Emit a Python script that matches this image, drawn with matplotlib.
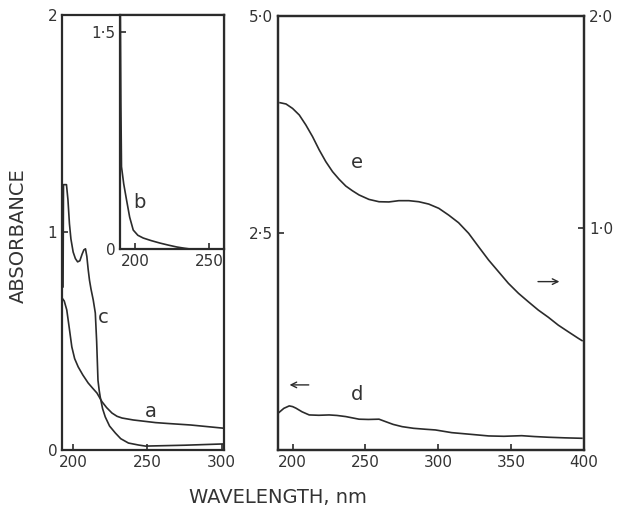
import matplotlib.pyplot as plt

# curve a, c (left panel, 0-2 absorbance)
wl_a = [192.4, 194.0, 195.7, 197.4, 199.1, 201.0, 203.4, 206.5, 210.1, 213.0, 216.0, 219.4,
        222.5, 226.1, 229.5, 232.9, 240.5, 255.4, 263.5, 279.0, 301.5]
abs_a = [0.70, 0.685, 0.644, 0.56, 0.474, 0.42, 0.382, 0.345, 0.308, 0.285, 0.262, 0.222,
         0.195, 0.170, 0.155, 0.147, 0.138, 0.126, 0.122, 0.115, 0.100]

wl_c = [193.2, 193.5, 195.5, 196.5, 197.5, 198.5, 200.0, 201.5, 203.0, 204.5, 206.0, 207.2,
        208.3, 209.2, 210.1, 211.0, 212.0, 213.5, 214.9, 215.8, 216.7, 217.5, 218.2, 219.8,
        221.6, 224.5, 228.4, 232.0, 237.2, 243.9, 248.6, 275.0, 301.5]
abs_c = [0.75, 1.22, 1.22, 1.15, 1.04, 0.97, 0.91, 0.88, 0.865, 0.87, 0.90, 0.92,
         0.925, 0.89, 0.83, 0.78, 0.74, 0.69, 0.63, 0.50, 0.32, 0.275, 0.244, 0.19,
         0.152, 0.11, 0.078, 0.052, 0.032, 0.023, 0.018, 0.022, 0.028]

# curve b (inset)
wl_b = [190.2, 190.6, 191.0, 192.5, 194.4, 196.5, 198.9, 202.0, 205.6, 211.0, 216.9, 222.5,
        228.2, 233.0, 237.2, 260.0]
abs_b = [1.70, 1.00, 0.569, 0.45, 0.339, 0.22, 0.131, 0.095, 0.076, 0.058, 0.041, 0.027,
         0.014, 0.006, 0.0, 0.0]

# curve d (right panel, left scale 0-5)
wl_d = [190.5, 194.0, 197.7, 200.0, 202.3, 206.5, 211.4, 218.0, 225.1, 230.5, 236.5, 245.6,
        252.0, 259.3, 263.8, 269.0, 275.2, 283.0, 291.2, 298.0, 309.2, 313.9, 324.0, 334.5,
        345.0, 357.2, 366.0, 375.5, 387.0, 398.5]
abs_d = [0.43, 0.48, 0.508, 0.50, 0.482, 0.44, 0.404, 0.40, 0.404, 0.398, 0.385, 0.355,
         0.352, 0.355, 0.327, 0.295, 0.269, 0.25, 0.239, 0.231, 0.20, 0.193, 0.178, 0.162,
         0.158, 0.165, 0.155, 0.147, 0.14, 0.135]

# curve e (right panel, right scale 0-2)
wl_e = [191.4, 195.5, 200.0, 204.6, 209.1, 213.7, 218.3, 222.8, 227.4, 231.9, 236.5, 241.0,
        245.6, 252.4, 259.3, 266.1, 272.9, 279.8, 286.6, 293.4, 300.3, 307.1, 313.9, 320.8,
        327.6, 334.5, 341.3, 348.1, 355.0, 361.8, 368.6, 375.5, 382.3, 389.1, 396.0, 398.6]
abs_e = [1.591, 1.585, 1.564, 1.533, 1.486, 1.431, 1.368, 1.313, 1.266, 1.230, 1.198, 1.176,
         1.156, 1.135, 1.124, 1.123, 1.129, 1.129, 1.124, 1.113, 1.093, 1.061, 1.025, 0.975,
         0.912, 0.849, 0.794, 0.739, 0.692, 0.652, 0.613, 0.579, 0.542, 0.511, 0.480, 0.469]

col = "#2b2b2b"
tcol = "#333333"
plt.rcParams["font.family"] = ["DejaVu Sans"]

fig = plt.figure(figsize=(6.17, 5.13), dpi=100)

def style(ax):
    for s in ax.spines.values():
        s.set_linewidth(1.6)
        s.set_color(col)
    ax.tick_params(direction="in", length=4, width=1.2, colors=col, labelcolor=tcol, labelsize=11)

# left panel
ax = fig.add_axes([0.1005, 0.1228, 0.2626, 0.848])
ax.plot(wl_a, abs_a, color=col, lw=1.2)
ax.plot(wl_c, abs_c, color=col, lw=1.2)
ax.set_xlim(192.5, 301.5)
ax.set_ylim(0, 2)
ax.set_xticks([200, 250, 300])
ax.set_yticks([0, 1, 2])
style(ax)
ax.text(252, 0.175, "a", fontsize=14, color=tcol, ha="center", va="center")
ax.text(220.3, 0.61, "c", fontsize=14, color=tcol, ha="center", va="center")

# inset
axi = fig.add_axes([0.1945, 0.5146, 0.1686, 0.456])
axi.plot(wl_b, abs_b, color=col, lw=1.2)
axi.set_xlim(190, 260)
axi.set_ylim(0, 1.617)
axi.set_xticks([200, 250])
axi.set_yticks([0, 1.5])
axi.set_yticklabels(["0", "1·5"])
style(axi)
axi.text(203.4, 0.32, "b", fontsize=14, color=tcol, ha="center", va="center")

# right panel
axr = fig.add_axes([0.4506, 0.1228, 0.496, 0.846])
axr.plot(wl_d, abs_d, color=col, lw=1.2)
axr.set_xlim(190, 399)
axr.set_ylim(0, 5)
axr.set_xticks([200, 250, 300, 350, 400])
axr.set_yticks([2.5, 5.0])
axr.set_yticklabels(["2·5", "5·0"])
style(axr)
ax2 = axr.twinx()
ax2.plot(wl_e, abs_e, color=col, lw=1.2)
ax2.set_ylim(-0.047, 2.0)
ax2.set_yticks([1.0, 2.0])
ax2.set_yticklabels(["1·0", "2·0"])
style(ax2)
axr.text(244.0, 3.31, "e", fontsize=14, color=tcol, ha="center", va="center")
axr.text(244.2, 0.635, "d", fontsize=14, color=tcol, ha="center", va="center")
axr.annotate("", xy=(196.0, 0.75), xytext=(213.0, 0.75),
             arrowprops=dict(arrowstyle="->", color=col, lw=1.0))
axr.annotate("", xy=(385.0, 1.94), xytext=(366.5, 1.94),
             arrowprops=dict(arrowstyle="->", color=col, lw=1.0))

fig.text(0.029, 0.54, "ABSORBANCE", rotation=90, fontsize=14, color=tcol, ha="center", va="center")
fig.text(0.45, 0.03, "WAVELENGTH, nm", fontsize=14, color=tcol, ha="center", va="center")

fig.savefig("out.png", dpi=100, facecolor="white")
